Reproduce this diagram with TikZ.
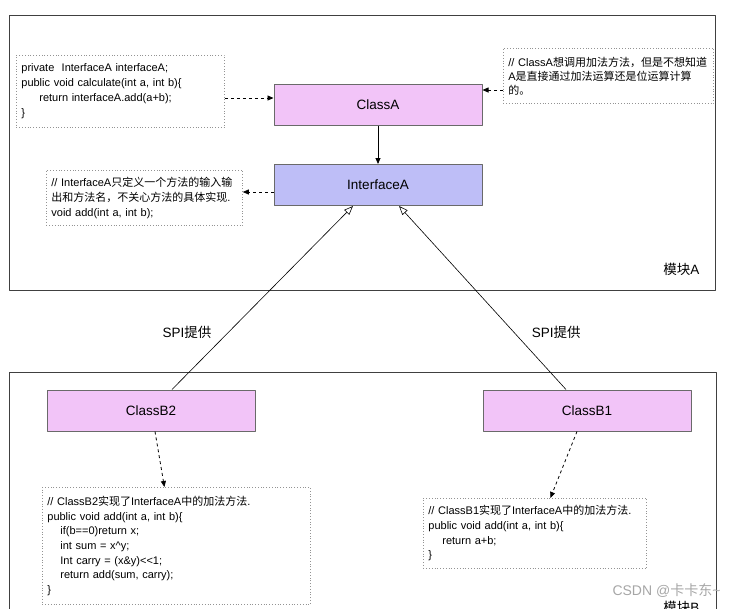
\documentclass[tikz,border=0pt]{standalone}
\usepackage{fontspec}
\setmainfont{Liberation Sans}
\newfontfamily\cjk{Noto Sans CJK SC}
\newcommand\zh[1]{{\cjk #1}}
\usetikzlibrary{arrows.meta,positioning}
\definecolor{clsfill}{HTML}{F2C4F8}
\definecolor{iffill}{HTML}{BEBEF7}
\definecolor{boxline}{HTML}{6A6A6A}

\begin{document}
\begin{tikzpicture}[x=1pt,y=-1pt,line join=round,
	cls/.style={draw=boxline,line width=1pt,minimum width=208pt,minimum height=41pt,font=\fontsize{13.5}{16}\selectfont},
	note/.style={draw=gray!85,line width=.8pt,dash pattern=on .8pt off 2pt,align=left,inner sep=5pt,anchor=north west,font=\fontsize{11}{14.7}\selectfont},
	frame/.style={draw=black!75,line width=.8pt},
	dasharr/.style={line width=.8pt,dash pattern=on 3pt off 3pt,-{Triangle[length=6pt,width=5pt]}},
	spi/.style={line width=.6pt,-{Triangle[open,length=9pt,width=7pt]}},
	lbl/.style={font=\fontsize{13.5}{16}\selectfont}]
	\useasboundingbox (0,0) rectangle (739,608);
	\clip (0,0) rectangle (739,608);
	\draw[frame] (9,15) rectangle (715,290);
	\draw[frame] (9,372) rectangle (716,640);
	\node[cls,fill=clsfill] (ClassA) at (378,104.5) {ClassA};
	\node[cls,fill=iffill] (InterfaceA) at (378,185) {InterfaceA};
	\node[cls,fill=clsfill] (ClassB2) at (151,410.5) {ClassB2};
	\node[cls,fill=clsfill] (ClassB1) at (587,410.5) {ClassB1};
	\node[note,text width=198pt,minimum height=72pt,font=\fontsize{11}{15}\selectfont] (callnote) at (16,55) {private\ \ InterfaceA interfaceA;\\ public void calculate(int a, int b)\{\\ \hspace*{18pt}return interfaceA.add(a+b);\\ \}};
	\node[note,text width=200pt,minimum height=55pt,font=\fontsize{11}{14}\selectfont] (asknote) at (503,48) {// ClassA\zh{想调用加法方法，但是不想知道}\\ A\zh{是直接通过加法运算还是位运算计算}\\ \zh{的。}};
	\node[note,text width=186pt,minimum height=55pt] (ifnote) at (46,170) {// InterfaceA\zh{只定义一个方法的输入输}\\ \zh{出和方法名，不关心方法的具体实现}.\\ void add(int a, int b);};
	\node[note,text width=258pt,minimum height=117pt] (b2note) at (42,487) {// ClassB2\zh{实现了}InterfaceA\zh{中的加法方法}.\\ public void add(int a, int b)\{\\ \hspace*{13pt}if(b==0)return x;\\ \hspace*{13pt}int sum = x\textasciicircum y;\\ \hspace*{13pt}Int carry = (x\&y)<{}<1;\\ \hspace*{13pt}return add(sum, carry);\\ \}};
	\node[note,text width=213pt,minimum height=70pt] (b1note) at (423,498) {// ClassB1\zh{实现了}InterfaceA\zh{中的加法方法}.\\ public void add(int a, int b)\{\\ \hspace*{14pt}return a+b;\\ \}};
	\draw[line width=.8pt,-{Triangle[length=6pt,width=5pt]}] (ClassA) -- (InterfaceA);
	\coordinate (callin) at ([yshift=6.5pt]ClassA.west);
	\draw[dasharr] (callnote.east |- callin) -- (callin);
	\coordinate (askin) at ([yshift=14.5pt]ClassA.east);
	\draw[dasharr] (asknote.west |- askin) -- (askin);
	\coordinate (ifout) at ([yshift=-7pt]InterfaceA.west);
	\draw[dasharr] (ifout) -- (ifnote.east |- ifout);
	\draw[dasharr] ([xshift=4pt]ClassB2.south) -- ([xshift=-12pt]b2note.north);
	\draw[dasharr] ([xshift=-10pt]ClassB1.south) -- ([xshift=15.5pt]b1note.north);
	\draw[spi] ([xshift=21pt]ClassB2.north) -- node[lbl,pos=.31,left=13pt] (spiL) {SPI\zh{提供}} ([xshift=-25pt]InterfaceA.south);
	\draw[spi] ([xshift=-21pt]ClassB1.north) -- node[lbl,pos=.31,right=14pt] (spiR) {SPI\zh{提供}} ([xshift=21pt]InterfaceA.south);
	\node[lbl,anchor=east] (modA) at (703,269) {\zh{模块}A};
	\node[lbl,anchor=east] (modB) at (703,607) {\zh{模块}B};
	\node[anchor=east,text=gray!70,font=\fontsize{14}{16}\selectfont] (mark) at (724,591) {CSDN @\zh{卡卡东}\textasciitilde};
\end{tikzpicture}
\end{document}
